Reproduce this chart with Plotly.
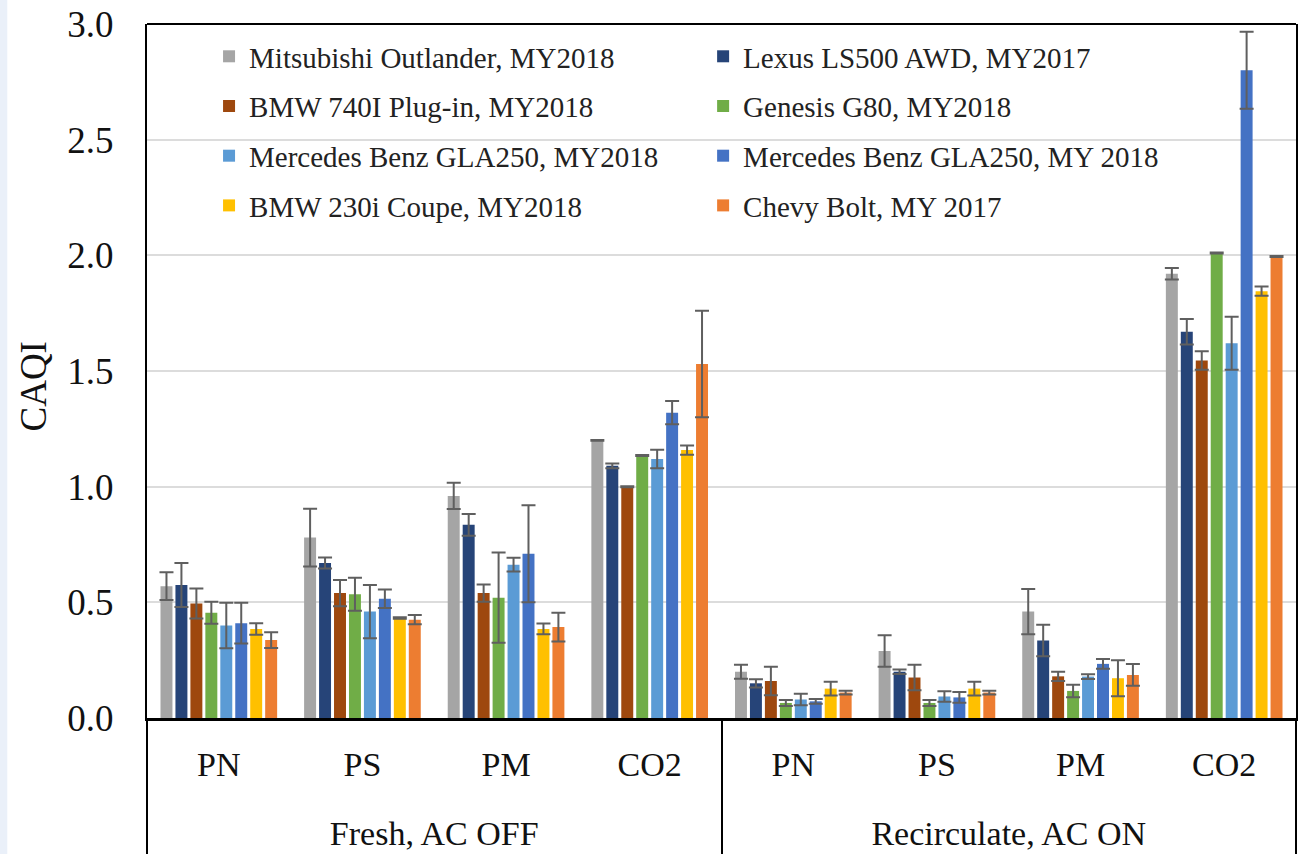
import plotly.graph_objects as go

# ---------------- data ----------------
groups = ["Fresh, AC OFF"] * 4 + ["Recirculate, AC ON"] * 4
pollutants = ["PN", "PS", "PM", "CO2"] * 2

series_names = [
    "Mitsubishi Outlander, MY2018",
    "Lexus LS500 AWD, MY2017",
    "BMW 740I Plug-in, MY2018",
    "Genesis G80, MY2018",
    "Mercedes Benz GLA250, MY2018",
    "Mercedes Benz GLA250, MY 2018",
    "BMW 230i Coupe, MY2018",
    "Chevy Bolt, MY 2017",
]

mitsubishi = [0.57, 0.78, 0.96, 1.20, 0.20, 0.29, 0.46, 1.92]
mitsubishi_err = [0.06, 0.125, 0.057, 0.002, 0.03, 0.068, 0.098, 0.025]

lexus = [0.575, 0.67, 0.835, 1.09, 0.15, 0.20, 0.335, 1.67]
lexus_err = [0.095, 0.024, 0.047, 0.01, 0.018, 0.01, 0.068, 0.055]

bmw740 = [0.495, 0.54, 0.54, 1.00, 0.16, 0.175, 0.18, 1.545]
bmw740_err = [0.065, 0.057, 0.037, 0.002, 0.062, 0.055, 0.02, 0.04]

genesis = [0.455, 0.535, 0.52, 1.135, 0.065, 0.065, 0.117, 2.01]
genesis_err = [0.048, 0.071, 0.195, 0.002, 0.013, 0.013, 0.027, 0.002]

mercedes_a = [0.40, 0.46, 0.663, 1.12, 0.08, 0.093, 0.179, 1.62]
mercedes_a_err = [0.098, 0.115, 0.03, 0.04, 0.025, 0.023, 0.01, 0.115]

mercedes_b = [0.41, 0.515, 0.71, 1.32, 0.072, 0.089, 0.234, 2.80]
mercedes_b_err = [0.088, 0.04, 0.21, 0.05, 0.01, 0.023, 0.021, 0.166]

bmw230 = [0.385, 0.432, 0.385, 1.158, 0.127, 0.127, 0.172, 1.845]
bmw230_err = [0.025, 0.003, 0.023, 0.02, 0.03, 0.03, 0.078, 0.02]

chevy = [0.337, 0.425, 0.393, 1.53, 0.11, 0.11, 0.186, 1.995]
chevy_err = [0.034, 0.02, 0.062, 0.23, 0.008, 0.008, 0.047, 0.002]

y_ticks = [0.0, 0.5, 1.0, 1.5, 2.0, 2.5, 3.0]
y_tick_text = ["0.0", "0.5", "1.0", "1.5", "2.0", "2.5", "3.0"]
y_title = "CAQI"

values = [mitsubishi, lexus, bmw740, genesis, mercedes_a, mercedes_b, bmw230, chevy]
errors = [mitsubishi_err, lexus_err, bmw740_err, genesis_err,
          mercedes_a_err, mercedes_b_err, bmw230_err, chevy_err]
colors = ["#A5A5A5", "#264478", "#9E480E", "#70AD47",
          "#5B9BD5", "#4472C4", "#FFC000", "#ED7D31"]

FONT = "Liberation Serif, Times New Roman, serif"

# an empty second line under each pollutant label pushes the group labels
# further down, as in the reference table-like axis
pollutant_labels = [p + "<br>\u00a0" for p in pollutants]

fig = go.Figure()
for i, (name, vals, errs, col) in enumerate(zip(series_names, values, errors, colors)):
    fig.add_trace(go.Bar(
        x=[groups, pollutant_labels],
        y=vals,
        name=name,
        marker=dict(color=col, line=dict(width=0)),
        error_y=dict(type="data", array=errs, visible=True,
                     color="#5f5f5f", thickness=2, width=7),
        legend="legend" if i % 2 == 0 else "legend2",
        legendgroup=f"g{i}",
    ))

legend_common = dict(
    font=dict(family=FONT, size=29, color="#222222"),
    bgcolor="rgba(0,0,0,0)",
    orientation="v",
    yanchor="top",
    xanchor="left",
    tracegroupgap=9,
    itemclick=False,
)

fig.update_layout(
    width=1301,
    height=854,
    margin=dict(l=147, r=3, t=24, b=130),
    paper_bgcolor="white",
    plot_bgcolor="white",
    barmode="group",
    bargap=0.167,
    bargroupgap=0.2,
    font=dict(family=FONT, color="#111111"),
    legend=dict(x=0.054, y=0.99, **legend_common),
    legend2=dict(x=0.484, y=0.99, **legend_common),
    showlegend=True,
)

fig.update_xaxes(
    type="multicategory",
    showline=True,
    linecolor="black",
    linewidth=3,
    mirror=False,
    ticks="",
    showgrid=False,
    tickfont=dict(family=FONT, size=34, color="#111111"),
    showdividers=True,
    dividercolor="black",
    dividerwidth=1.5,
    ticklabelstandoff=14,
)

fig.update_yaxes(
    range=[0, 3.0],
    tickvals=y_ticks,
    ticktext=y_tick_text,
    showline=True,
    linecolor="black",
    linewidth=2,
    mirror=True,
    ticks="",
    showgrid=True,
    gridcolor="#dcdcdc",
    gridwidth=2,
    zeroline=False,
    tickfont=dict(family=FONT, size=37, color="#111111"),
    ticklabelstandoff=24,
)

# y-axis title, placed slightly below the plot centre as in the reference
fig.add_annotation(text=y_title, xref="paper", yref="paper",
                   x=-0.099, y=0.478, textangle=-90, showarrow=False,
                   xanchor="center", yanchor="middle",
                   font=dict(family=FONT, size=37, color="#111111"))

# top frame line of plot area
fig.add_shape(type="line", xref="paper", yref="paper", x0=0, x1=1, y0=1, y1=1,
              line=dict(color="black", width=2))
# thin light strip at the left edge of the picture
fig.add_shape(type="rect", xref="paper", yref="paper", x0=-0.13, x1=-0.1216,
              y0=-0.2, y1=1.04, fillcolor="#EAF0F9", line=dict(width=0), layer="below")

fig.write_html("out.html")
